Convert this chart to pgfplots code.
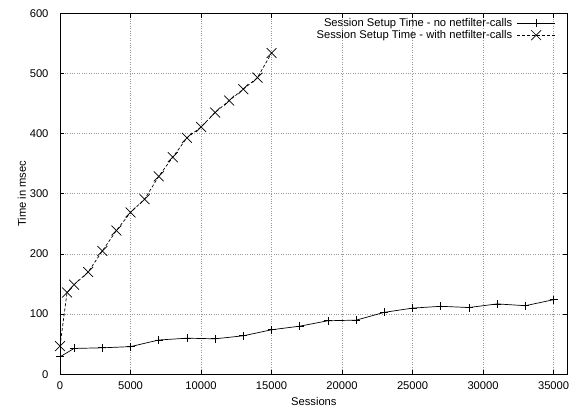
\documentclass[border=0pt]{standalone}
\usepackage{pgfplots}
\pgfplotsset{compat=1.18}
\usepackage{fontspec}
\setmainfont{Liberation Sans}
\begin{document}
\begin{tikzpicture}
\begin{axis}[
  name=ax,
  scale only axis,
  width=507.7pt, height=361pt,
  xmin=0, xmax=36000, ymin=0, ymax=600,
  xtick={0,5000,...,35000},
  ytick={0,100,...,600},
  /pgf/number format/assume math mode=true,
  /pgf/number format/set thousands separator={},
  scaled x ticks=false,
  tick align=inside,
  grid=major,
  major grid style={gray!80, dotted, line width=0.6pt},
  axis line style={line width=0.8pt},
  tick style={black, line width=0.6pt},
  ticklabel style={font=\fontsize{11.2}{12}\selectfont},
  yticklabel style={xshift=-8pt},
  xticklabel style={yshift=-3.5pt},
  label style={font=\fontsize{11.2}{12}\selectfont},
  xlabel={Sessions},
  ylabel={Time in msec},
  xlabel style={at={(axis description cs:0.5,-0.076)}, anchor=center},
  ylabel style={at={(axis description cs:-0.075,0.5)}, anchor=center},
  legend style={draw=none, fill=none, font=\fontsize{11.2}{12}\selectfont,
    at={(rel axis cs:0.977,0.988)}, anchor=north east, row sep=0.5pt, inner sep=0pt,
    nodes={inner sep=0.8pt, text height=7.8pt, text depth=1.8pt}},
  legend cell align=right,
  legend plot pos=right,
  legend image code/.code={\path (0cm,0cm); \draw[mark repeat=2,mark phase=2,#1] plot coordinates {(0.12cm,0cm)(0.8cm,0cm)(1.48cm,0cm)};},
]
\addplot[black, line width=0.7pt, mark=+, mark size=4pt, mark options={solid}] coordinates {
(0,29) (1000,43) (3000,44) (5000,46) (7000,57) (9000,60) (11000,59) (13000,64)
(15000,74) (17000,80) (19000,89) (21000,90) (23000,103) (25000,110) (27000,113)
(29000,111) (31000,117) (33000,114) (35000,124)
};
\addlegendentry{Session Setup Time - no netfilter-calls}
\addplot[black, line width=0.7pt, dash pattern=on 3pt off 2pt, mark=x, mark size=7pt, mark options={solid}] coordinates {
(0,47) (500,136) (1000,149) (2000,170) (3000,205) (4000,239) (5000,269) (6000,291)
(7000,329) (8000,361) (9000,393) (10000,411) (11000,435) (12000,455) (13000,474)
(14000,493) (15000,534)
};
\addlegendentry{Session Setup Time - with netfilter-calls}
\end{axis}
\pgfresetboundingbox
\path (ax.south west) ++(-60pt,-36.5pt) coordinate (bl);
\path (ax.north east) ++(1.3pt,13.3pt) coordinate (tr);
\path[use as bounding box] (bl) rectangle (tr);
\end{tikzpicture}
\end{document}
